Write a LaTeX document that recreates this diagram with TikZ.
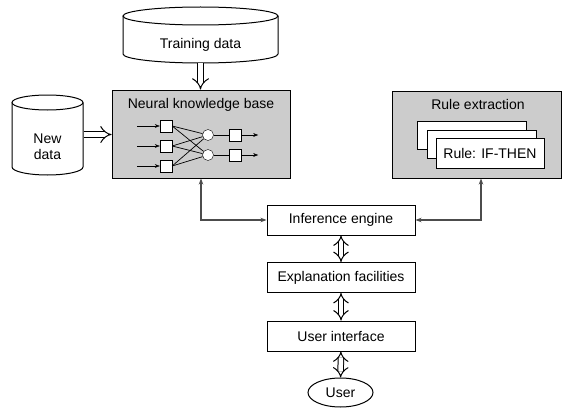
\documentclass[tikz,border=0pt]{standalone}
\usepackage{fontspec}
\setmainfont{Liberation Sans}
\usetikzlibrary{arrows.meta,shapes.geometric}

\tikzset{
  box/.style={draw, line width=1pt, fill=white, minimum width=148pt, minimum height=30pt, inner sep=0pt},
  panel/.style={draw, line width=1pt, fill=black!20, inner sep=0pt},
  unit/.style={draw, fill=white, minimum size=12pt, inner sep=0pt},
  neuron/.style={draw, fill=white, circle, minimum size=11pt, inner sep=0pt},
  hollow/.style={double, double distance=4.5pt, line width=1pt, {Implies}-{Implies}},
  hollowone/.style={double, double distance=5pt, line width=1pt, -{Implies}},
  link/.style={line width=1.2pt, black!70, {Stealth[length=6pt]}-{Stealth[length=6pt]}},
  feed/.style={-{Stealth[length=5pt]}}
}

\begin{document}
\begin{tikzpicture}[x=1pt, y=1pt, font=\fontsize{14}{16}\selectfont]
      \useasboundingbox (0,0) rectangle (562,408);

      % Define the two data stores
      \def\trainTop{(200.5,392) ellipse [x radius=77.5, y radius=9]}
      \def\newTop{(47.5,305.5) ellipse [x radius=35.5, y radius=7.5]}

      % Training data cylinder
      \draw[line width=1pt, fill=white] (123,392) -- (123,354)
        arc[start angle=180, end angle=360, x radius=77.5, y radius=9] -- (278,392);
      \draw[line width=1pt] \trainTop;
      \node[minimum width=155pt, minimum height=36pt] (train) at (200.5,363) {Training data};

      % New data cylinder
      \draw[line width=1pt, fill=white] (12,305.5) -- (12,241)
        arc[start angle=180, end angle=360, x radius=35.5, y radius=8] -- (83,305.5);
      \draw[line width=1pt] \newTop;
      \node[minimum width=71pt, align=center, inner xsep=0pt] (newd) at (47.5,261.5) {New\\data};
      \coordinate (newout) at (83.5,273.5);

      % Neural knowledge base with its small network
      \node[panel, minimum width=178pt, minimum height=88pt] (nkb) at (201,274) {};
      \node (nkbtitle) at (201,303) {Neural knowledge base};
      \foreach \i/\y in {1/282, 2/262, 3/242} {
        \node[unit] (in\i) at (166,\y) {};
        \draw[feed] (137,\y) -- (in\i.west);
      }
      \foreach \j/\y in {1/273, 2/253} {
        \node[neuron] (hid\j) at (208,\y) {};
        \node[unit] (out\j) at (235,\y) {};
        \draw (hid\j) -- (out\j);
        \draw[feed] (out\j.east) -- ++(17,0);
        \foreach \i in {1,2,3}
          \draw[line width=0.7pt] (in\i.east) -- (hid\j);
      }

      % Rule extraction with stacked rule cards
      \node[panel, minimum width=169pt, minimum height=87pt] (rules) at (476.5,273.5) {};
      \node (rulestitle) at (478,304) {Rule extraction};
      \draw[line width=1pt, fill=white] (417,259) rectangle (526,287);
      \draw[line width=1pt, fill=white] (427,250) rectangle (536,278);
      \node[draw, line width=1pt, fill=white, minimum width=108pt, minimum height=30pt, inner sep=0pt]
        (rule) at (490,255) {Rule: IF-THEN};

      % Main column
      \node[box] (engine) at (341,188) {Inference engine};
      \node[box] (explain) at (341,130.5) {Explanation facilities};
      \node[box] (ui) at (341,72) {User interface};
      \node[draw, line width=1pt, ellipse, minimum width=65pt, minimum height=29pt, inner sep=0pt]
        (user) at (340.5,15.5) {User};

      % Connectors
      \draw[hollowone] (train.south) -- (nkb.north -| train.south);
      \draw[hollowone] (newout) -- (newout -| nkb.west);
      \draw[link] (nkb.south) |- (engine.west);
      \draw[link] ([xshift=4.5pt]rules.south) |- (engine.east);
      \draw[hollow] (engine) -- (explain);
      \draw[hollow] (explain) -- (ui);
      \draw[hollow] (ui) -- (user);
\end{tikzpicture}
\end{document}
